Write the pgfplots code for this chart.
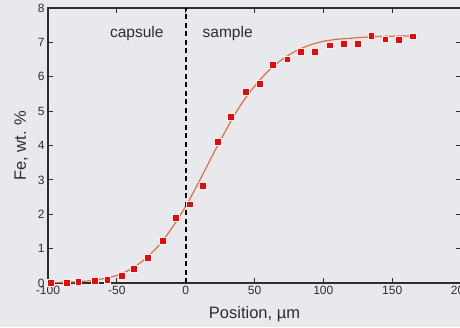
\documentclass[border=0pt]{standalone}
\usepackage{pgfplots}
\pgfplotsset{compat=1.18}
\usepackage{fontspec}
\setmainfont{Liberation Sans}
\definecolor{bg}{RGB}{232,233,237}
\definecolor{txt}{RGB}{45,45,45}
\definecolor{fitc}{RGB}{226,112,62}
\definecolor{ptc}{RGB}{255,0,0}
\begin{document}
\begin{tikzpicture}
\useasboundingbox (0,0) rectangle (460pt,327pt);
\fill[bg] (0,0) rectangle (460pt,327pt);
\begin{axis}[
  at={(48pt,44pt)}, anchor=south west,
  scale only axis, width=413pt, height=275pt,
  xmin=-100, xmax=200, ymin=0, ymax=8,
  xtick={-100,-50,0,50,100,150,200},
  ytick={0,1,2,3,4,5,6,7,8},
  tick align=inside,
  major tick length=5pt,
  axis line style={txt, line width=1.3pt},
  every tick/.style={txt, line width=1pt},
  tick label style={font=\fontsize{12}{12}\selectfont, text=txt},
  /pgf/number format/assume math mode=true,
  xlabel={Position, µm},
  ylabel={Fe, wt. \%},
  label style={font=\fontsize{16.5}{16.5}\selectfont, text=txt},
  xlabel style={yshift=-5pt},
  ylabel style={yshift=3pt},
  clip=false,
]
\addplot[fitc, line width=1.2pt, smooth] coordinates {
(-100,0.01) (-90,0.02) (-80,0.035) (-70,0.065) (-60,0.125) (-50,0.22)
(-40,0.40) (-30,0.68) (-20,1.07) (-10,1.60) (0,2.23) (10,2.97) (20,3.75)
(30,4.50) (40,5.18) (50,5.72) (60,6.17) (70,6.50) (80,6.75) (90,6.92)
(100,7.03) (110,7.09) (120,7.12) (130,7.15) (140,7.17) (150,7.18) (165,7.19)
};
\addplot[only marks, mark=square*, mark size=3.4pt,
  mark options={fill=ptc, draw=white, line width=0.4pt}] coordinates {
(-98,0.02) (-86.5,0.02) (-78,0.04) (-66,0.06) (-57,0.09) (-46.6,0.21)
(-37.7,0.41) (-27.5,0.74) (-16.7,1.22) (-7.2,1.91) (2.7,2.29) (12.5,2.82)
(23,4.12) (32.6,4.84) (43.7,5.57) (53.9,5.80) (63.3,6.36) (73.7,6.51)
(83.8,6.72) (94,6.72) (104.6,6.92) (115,6.95) (125,6.95) (134.8,7.19)
(145,7.09) (155,7.07) (165,7.18)
};
\draw[black, line width=2pt, dash pattern=on 5pt off 3.5pt] (axis cs:0,0) -- (axis cs:0,8);
\node[font=\fontsize{15.5}{15.5}\selectfont, text=txt] at (axis cs:-35.5,7.27) {capsule};
\node[font=\fontsize{15.5}{15.5}\selectfont, text=txt] at (axis cs:30.5,7.27) {sample};
\end{axis}
\end{tikzpicture}
\end{document}
